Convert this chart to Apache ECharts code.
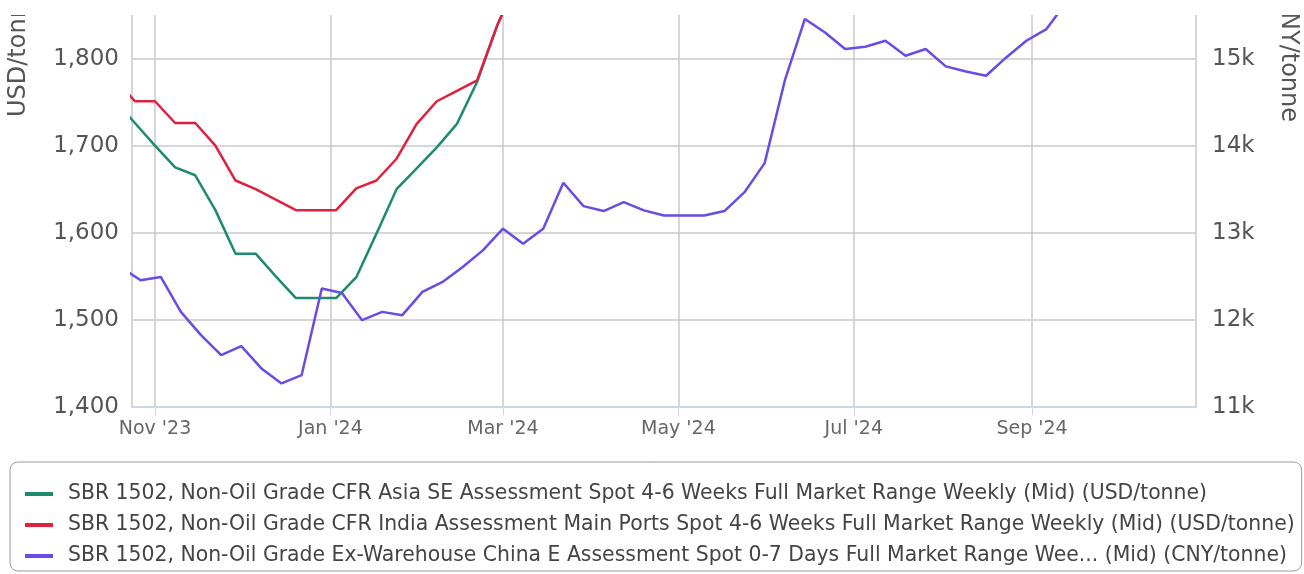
<!DOCTYPE html>
<html><head><meta charset="utf-8">
<script src="https://cdn.jsdelivr.net/npm/echarts@6/dist/echarts.min.js"></script>
<style>
html,body{margin:0;padding:0;background:#fff;width:1304px;height:574px;overflow:hidden}
#chart{position:absolute;left:0;top:15px;width:1304px;height:559px}
</style>
</head><body><div id="chart"></div>
<script>
// Weekly USD assessments (Wednesdays)
const usdDates = ['2023-10-18','2023-10-25','2023-11-01','2023-11-08','2023-11-15','2023-11-22','2023-11-29','2023-12-06','2023-12-13','2023-12-20','2023-12-27','2024-01-03','2024-01-10','2024-01-17','2024-01-24','2024-01-31','2024-02-07','2024-02-14','2024-02-21','2024-02-28','2024-03-06'];
const asiaSE = [1753,1726,1700,1675,1666,1626,1576,1576,1550,1525,1525,1525,1549,1599,1650,1674,1698,1725,1773,1838,1890];
const india  = [1777,1751,1751,1726,1726,1700,1660,1650,1638,1626,1626,1626,1651,1660,1685,1725,1751,1763,1775,1838,1890];
// Weekly CNY assessments (Fridays)
const cnyDates = ['2023-10-20','2023-10-27','2023-11-03','2023-11-10','2023-11-17','2023-11-24','2023-12-01','2023-12-08','2023-12-15','2023-12-22','2023-12-29','2024-01-05','2024-01-12','2024-01-19','2024-01-26','2024-02-02','2024-02-09','2024-02-16','2024-02-23','2024-03-01','2024-03-08','2024-03-15','2024-03-22','2024-03-29','2024-04-05','2024-04-12','2024-04-19','2024-04-26','2024-05-03','2024-05-10','2024-05-17','2024-05-24','2024-05-31','2024-06-07','2024-06-14','2024-06-21','2024-06-28','2024-07-05','2024-07-12','2024-07-19','2024-07-26','2024-08-02','2024-08-09','2024-08-16','2024-08-23','2024-08-30','2024-09-06','2024-09-13'];
const chinaE = [12608,12455,12493,12092,11825,11596,11699,11443,11271,11367,12360,12309,11997,12092,12054,12321,12435,12607,12798,13047,12875,13047,13574,13306,13249,13352,13257,13199,13199,13199,13249,13466,13800,14746,15455,15299,15109,15135,15204,15032,15109,14910,14852,14803,15013,15204,15338,15650];

const seriesNames = [
  'SBR 1502, Non-Oil Grade CFR Asia SE Assessment Spot 4-6 Weeks Full Market Range Weekly (Mid) (USD/tonne)',
  'SBR 1502, Non-Oil Grade CFR India Assessment Main Ports Spot 4-6 Weeks Full Market Range Weekly (Mid) (USD/tonne)',
  'SBR 1502, Non-Oil Grade Ex-Warehouse China E Assessment Spot 0-7 Days Full Market Range Wee... (Mid) (CNY/tonne)'
];
const colors = ['#1f8a70', '#de2141', '#6a4be3'];
const leftAxisName = 'USD/tonne';
const rightAxisName = 'CNY/tonne';
const xMin = '2023-10-24';
const xMax = '2024-10-28';
const monthNames = ['Jan','Feb','Mar','Apr','May','Jun','Jul','Aug','Sep','Oct','Nov','Dec'];

const FONT = 'DejaVu Sans';
const chart = echarts.init(document.getElementById('chart'), null, {renderer: 'canvas'});

function zip(d, v) { return d.map((x, i) => [x, v[i]]); }

chart.setOption({
  animation: false,
  backgroundColor: '#fff',
  color: colors,
  grid: {left: 132, right: 108, top: 0, bottom: 167, containLabel: false},
  xAxis: {
    type: 'time',
    min: xMin, max: xMax,
    axisLine: {show: true, lineStyle: {color: '#ccd6eb', width: 2}},
    axisTick: {show: true, length: 8, lineStyle: {color: '#ccd6eb', width: 1}},
    splitLine: {show: true, showMinLine: false, showMaxLine: false, lineStyle: {color: '#c8c8c8', width: 1.5}},
    axisLabel: {
      color: '#666', fontFamily: FONT, fontSize: 19, margin: 13,
      formatter: function (v) {
        const d = new Date(v);
        if (d.getDate() !== 1 || d.getHours() !== 0 || d.getMonth() % 2 !== 0) return '';
        return monthNames[d.getMonth()] + " '" + String(d.getFullYear()).slice(2);
      }
    }
  },
  yAxis: [{
    type: 'value', position: 'left', min: 1400, max: 1850, interval: 100,
    axisLine: {show: true, lineStyle: {color: '#c8c8c8', width: 1.5}},
    axisTick: {show: false},
    splitLine: {show: true, showMaxLine: false, lineStyle: {color: '#c8c8c8', width: 1.5}},
    axisLabel: {color: '#555', fontFamily: FONT, fontSize: 23, margin: 13, showMaxLabel: false,
      formatter: v => v.toLocaleString('en-US')}
  }, {
    type: 'value', position: 'right', min: 11000, max: 15500, interval: 1000,
    axisLine: {show: true, lineStyle: {color: '#c8c8c8', width: 1.5}},
    axisTick: {show: false},
    splitLine: {show: false},
    axisLabel: {color: '#555', fontFamily: FONT, fontSize: 23, margin: 16, showMaxLabel: false,
      formatter: v => (v / 1000) + 'k'}
  }],
  legend: {
    orient: 'vertical', left: 10, top: 447,
    padding: [22, 7, 5, 15], itemGap: 11,
    borderColor: '#999', borderWidth: 1, borderRadius: 8,
    icon: 'rect', itemWidth: 28, itemHeight: 4,
    textStyle: {color: '#444', fontFamily: FONT, fontSize: 20.4, lineHeight: 20, padding: [0, 0, 0, 10]},
    data: seriesNames
  },
  graphic: [
    {type: 'text', z: 10, rotation: Math.PI / 2, x: 19, y: 102,
     style: {text: leftAxisName, fill: '#555', font: '24px "DejaVu Sans"', textAlign: 'left', textVerticalAlign: 'middle'}},
    {type: 'text', z: 10, rotation: -Math.PI / 2, x: 1288, y: 107,
     style: {text: rightAxisName, fill: '#555', font: '24px "DejaVu Sans"', textAlign: 'right', textVerticalAlign: 'middle'}}
  ],
  series: [
    {name: seriesNames[0], type: 'line', yAxisIndex: 0, showSymbol: false, symbol: 'none', clip: true,
     lineStyle: {width: 2.5, color: colors[0]}, data: zip(usdDates, asiaSE)},
    {name: seriesNames[1], type: 'line', yAxisIndex: 0, showSymbol: false, symbol: 'none', clip: true,
     lineStyle: {width: 2.5, color: colors[1]}, data: zip(usdDates, india)},
    {name: seriesNames[2], type: 'line', yAxisIndex: 1, showSymbol: false, symbol: 'none', clip: true,
     lineStyle: {width: 2.5, color: colors[2]}, data: zip(cnyDates, chinaE)}
  ]
});
</script>
</body></html>
